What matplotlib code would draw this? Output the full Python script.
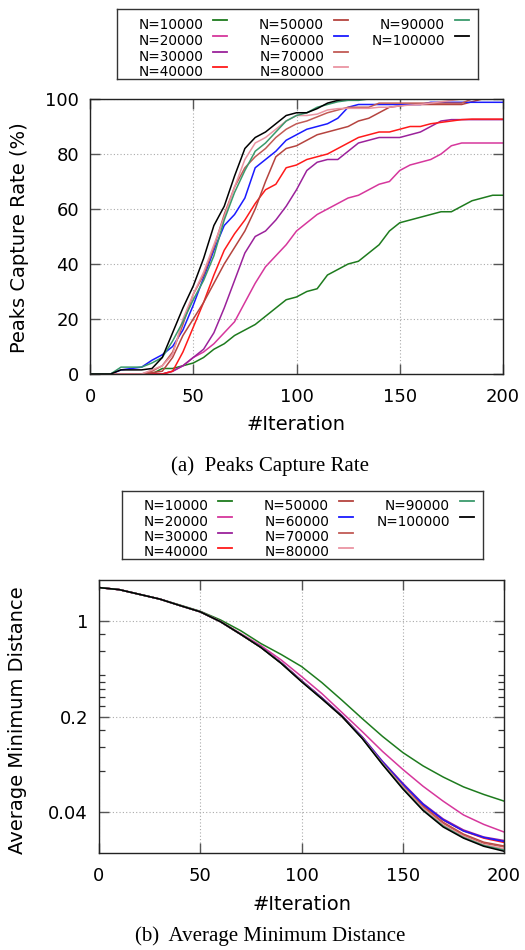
import matplotlib
matplotlib.use("Agg")
import matplotlib.pyplot as plt
from matplotlib.lines import Line2D
from matplotlib.ticker import FixedLocator, FixedFormatter, NullFormatter

# ---------------- data ----------------
LABELS = ["N=10000", "N=20000", "N=30000", "N=40000", "N=50000",
          "N=60000", "N=70000", "N=80000", "N=90000", "N=100000"]
COLORS = ["#1e7b1e", "#d6379c", "#9b229b", "#ff1a1a", "#b5443f",
          "#1a1aff", "#c25a55", "#ea94a2", "#3a9a6c", "#000000"]

# (a) Peaks capture rate (%), sampled every 5 iterations
ITER_A = list(range(0, 201, 5))
rate_10k = [0, 0, 0, 0, 0, 0, 0, 2, 2, 3, 4, 6, 9, 11, 14, 16, 18, 21, 24, 27, 28,
            30, 31, 36, 38, 40, 41, 44, 47, 52, 55, 56, 57, 58, 59, 59, 61, 63, 64, 65, 65]
rate_20k = [0, 0, 0, 0, 0, 0, 0, 0, 1, 3, 6, 8, 11, 15, 19, 26, 33, 39, 43, 47, 52,
            55, 58, 60, 62, 64, 65, 67, 69, 70, 74, 76, 77, 78, 80, 83, 84, 84, 84, 84, 84]
rate_30k = [0, 0, 0, 0, 0, 0, 0, 0, 1, 3, 6, 9, 15, 24, 34, 44, 50, 52, 56, 61, 67,
            74, 77, 78, 78, 81, 84, 85, 86, 86, 86, 87, 88, 90, 92, 92.5, 92.5, 92.5, 92.5, 92.5, 92.5]
rate_40k = [0, 0, 0, 0, 0, 0, 0, 0, 1, 8, 17, 26, 36, 45, 51, 56, 62, 67, 69, 75, 76,
            78, 79, 80, 82, 84, 86, 87, 88, 88, 89, 90, 90, 91, 91.5, 92, 92.5, 92.7, 92.7, 92.7, 92.7]
rate_50k = [0, 0, 0, 0, 0, 0, 0.5, 1, 6, 14, 20, 26, 33, 40, 46, 52, 60, 70, 79, 82, 83,
            85, 87, 88, 89, 90, 92, 93, 95, 97, 97.5, 98, 98, 98, 98, 98, 98, 99, 100, 100, 100]
rate_60k = [0, 0, 0, 1.5, 2, 2.5, 5, 7, 10, 16, 25, 35, 45, 54, 58, 64, 75, 78, 81, 85, 87,
            89, 90, 91, 93, 97, 98, 98, 98, 98, 98, 98, 98, 98.8, 98.8, 98.8, 98.8, 98.8, 98.8, 98.8, 98.8]
rate_70k = [0, 0, 0, 0, 0, 0, 1, 3, 8, 18, 29, 36, 46, 58, 68, 75, 79, 82, 86, 89, 91,
            92, 93.5, 95, 96, 97, 97, 97, 98.5, 98.5, 98.5, 98.5, 98.5, 98.5, 98.5, 98.5, 98.5, 100, 100, 100, 100]
rate_80k = [0, 0, 0, 0, 0, 0, 1.5, 3, 7, 20, 29, 37, 47, 57, 68, 78, 84, 86, 89, 92, 94,
            94, 94.5, 96, 96.5, 96.6, 96.6, 96.6, 97, 97, 97.5, 97.8, 98, 98.5, 99, 99.5, 100, 100, 100, 100, 100]
rate_90k = [0, 0, 0, 2.5, 2.5, 2.5, 4, 6, 12, 19, 27, 34, 43, 56, 66, 74, 81, 84, 88, 92, 94,
            95, 97, 98, 99, 99.5, 99.5, 100, 100, 100, 100, 100, 100, 100, 100, 100, 100, 100, 100, 100, 100]
rate_100k = [0, 0, 0, 1.5, 1.5, 1.5, 2, 6, 15, 24, 32, 42, 54, 61, 72, 82, 86, 88, 91, 94, 95,
             95, 96.5, 98.5, 99.5, 100, 100, 100, 100, 100, 100, 100, 100, 100, 100, 100, 100, 100, 100, 100, 100]
RATES = [rate_10k, rate_20k, rate_30k, rate_40k, rate_50k,
         rate_60k, rate_70k, rate_80k, rate_90k, rate_100k]

# (b) Average minimum distance, sampled every 10 iterations
ITER_B = list(range(0, 201, 10))
_head = [1.76, 1.70, 1.57, 1.45, 1.30, 1.17]
dist_10k = [1.76, 1.70, 1.57, 1.45, 1.31, 1.18, 1.02, 0.85, 0.684, 0.569, 0.465,
            0.355, 0.263, 0.193, 0.143, 0.109, 0.087, 0.072, 0.061, 0.0537, 0.048]
dist_20k = _head + [0.995, 0.81, 0.66, 0.519, 0.393, 0.295, 0.214, 0.155, 0.111,
                    0.082, 0.0617, 0.0479, 0.038, 0.0324, 0.0285]
dist_30k = _head + [0.99, 0.80, 0.645, 0.495, 0.367, 0.275, 0.203, 0.142, 0.094,
                    0.065, 0.046, 0.0355, 0.0295, 0.0262, 0.0247]
dist_40k = _head + [0.99, 0.80, 0.644, 0.494, 0.366, 0.274, 0.202, 0.141, 0.092,
                    0.0635, 0.045, 0.0348, 0.029, 0.0257, 0.0239]
dist_50k = _head + [0.99, 0.80, 0.643, 0.493, 0.364, 0.272, 0.201, 0.140, 0.091,
                    0.0625, 0.044, 0.0335, 0.0275, 0.024, 0.0225]
dist_60k = _head + [0.99, 0.80, 0.645, 0.495, 0.366, 0.274, 0.202, 0.141, 0.093,
                    0.064, 0.0455, 0.035, 0.029, 0.026, 0.0243]
dist_70k = _head + [0.99, 0.80, 0.642, 0.492, 0.363, 0.271, 0.200, 0.139, 0.091,
                    0.062, 0.0435, 0.033, 0.027, 0.0236, 0.0222]
dist_80k = _head + [0.99, 0.80, 0.641, 0.491, 0.362, 0.270, 0.200, 0.139, 0.090,
                    0.061, 0.0425, 0.032, 0.0265, 0.023, 0.0215]
dist_90k = _head + [0.99, 0.80, 0.640, 0.490, 0.361, 0.270, 0.200, 0.138, 0.0895,
                    0.0598, 0.0415, 0.0315, 0.026, 0.0227, 0.021]
dist_100k = _head + [0.99, 0.80, 0.64, 0.49, 0.36, 0.27, 0.20, 0.138, 0.089,
                     0.059, 0.041, 0.031, 0.0257, 0.0224, 0.0206]
DISTS = [dist_10k, dist_20k, dist_30k, dist_40k, dist_50k,
         dist_60k, dist_70k, dist_80k, dist_90k, dist_100k]

XTICKS = [0, 50, 100, 150, 200]
YTICKS_A = [0, 20, 40, 60, 80, 100]
YTICKS_B = [0.04, 0.2, 1]
YTICKLABELS_B = ["0.04", "0.2", "1"]
YMINOR_B = [0.08, 0.12, 0.16, 0.24, 0.28, 0.32, 0.36, 0.4, 0.6, 0.8]

# ---------------- figure ----------------
W, H = 525, 950
fig = plt.figure(figsize=(W / 100, H / 100), dpi=100)
plt.rcParams["font.family"] = ["DejaVu Sans"]


def fx(px):
    return px / W


def fy(py):
    return 1 - py / H


def style_axes(ax):
    for s in ax.spines.values():
        s.set_color("#222222")
        s.set_linewidth(1.0)
    ax.tick_params(which="major", direction="in", length=7, width=1.0,
                   color="#555555", top=True, right=True, labelsize=13)
    ax.tick_params(axis="x", which="major", pad=10)
    ax.tick_params(axis="y", which="major", pad=8)
    ax.tick_params(which="minor", direction="in", length=4, width=0.9,
                   color="#333333", right=True, left=True)
    ax.grid(True, which="major", linestyle=(0, (1, 2)), color="#aaaaaa", lw=0.8)
    ax.set_axisbelow(True)


def draw_legend(rect):
    lax = fig.add_axes(rect)
    lax.set_xlim(0, 1)
    lax.set_ylim(0, 1)
    lax.set_xticks([])
    lax.set_yticks([])
    for s in lax.spines.values():
        s.set_color("#333333")
        s.set_linewidth(1.0)
    text_x = [0.239, 0.574, 0.909]
    line_x = [(0.2666, 0.3053), (0.6015, 0.6403), (0.9364, 0.975)]
    rows = [0.774, 0.543, 0.317, 0.097]
    for i, (lab, col) in enumerate(zip(LABELS, COLORS)):
        c, r = divmod(i, 4)
        lax.text(text_x[c], rows[r], lab, ha="right", va="center", fontsize=9.8,
                 clip_on=True)
        lax.add_line(Line2D(line_x[c], [rows[r] + 0.07] * 2, color=col, lw=1.3))


# ---- (a) ----
ax1 = fig.add_axes([fx(90), fy(374), (503 - 90) / W, (374 - 99) / H])
for vals, col in zip(RATES, COLORS):
    ax1.plot(ITER_A, vals, color=col, lw=1.1)
ax1.set_xlim(0, 200)
ax1.set_ylim(0, 100)
ax1.set_xticks(XTICKS)
ax1.set_yticks(YTICKS_A)
style_axes(ax1)
draw_legend([fx(116.7), fy(78.7), (478 - 116.7) / W, (78.7 - 9.3) / H])
fig.text(fx(20), fy(238), "Peaks Capture Rate (%)", rotation=90,
         ha="center", va="center", fontsize=14)
fig.text(fx(296.5), fy(425), "#Iteration", ha="center", va="center", fontsize=14)
fig.text(fx(270), fy(466), "(a)  Peaks Capture Rate", ha="center", va="center",
         fontsize=15, family=["Liberation Serif", "DejaVu Serif"])

# ---- (b) ----
ax2 = fig.add_axes([fx(99), fy(853), (504 - 99) / W, (853 - 580) / H])
for vals, col in zip(DISTS, COLORS):
    ax2.plot(ITER_B, vals, color=col, lw=1.1)
ax2.set_yscale("log")
ax2.set_xlim(0, 200)
ax2.set_ylim(0.02, 2.0)
ax2.set_xticks(XTICKS)
ax2.yaxis.set_major_locator(FixedLocator(YTICKS_B))
ax2.yaxis.set_major_formatter(FixedFormatter(YTICKLABELS_B))
ax2.yaxis.set_minor_locator(FixedLocator(YMINOR_B))
ax2.yaxis.set_minor_formatter(NullFormatter())
ax2.xaxis.set_minor_locator(FixedLocator([]))
style_axes(ax2)
draw_legend([fx(121.7), fy(559), (483 - 121.7) / W, (559 - 490.7) / H])
fig.text(fx(18), fy(720), "Average Minimum Distance", rotation=90,
         ha="center", va="center", fontsize=14)
fig.text(fx(302.5), fy(905), "#Iteration", ha="center", va="center", fontsize=14)
fig.text(fx(270), fy(936), "(b)  Average Minimum Distance", ha="center", va="center",
         fontsize=15, family=["Liberation Serif", "DejaVu Serif"])

fig.savefig("out.png", dpi=100)
